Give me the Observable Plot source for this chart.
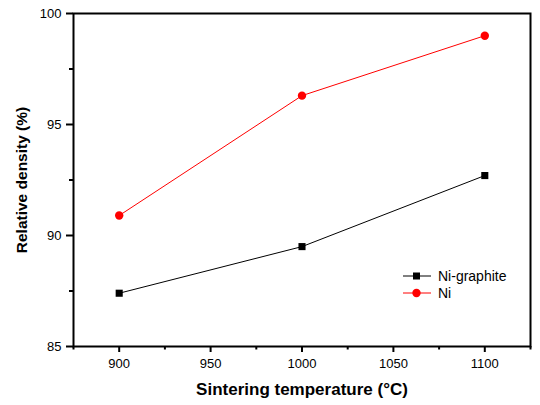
<!DOCTYPE html>
<html><head><meta charset="utf-8">
<script src="https://cdn.jsdelivr.net/npm/d3@7"></script>
<script src="https://cdn.jsdelivr.net/npm/@observablehq/plot@0.6"></script>
<style>
body{margin:0;background:#fff;font-family:"Liberation Sans",Arial,sans-serif;}
#wrap{position:relative;width:540px;height:405px;}
svg [aria-label="x-axis label"]{font-weight:bold;font-size:17px;}
svg [aria-label="y-axis label"]{font-weight:bold;font-size:15.5px;}
#legend{position:absolute;left:402px;top:268px;font-size:14px;line-height:16.5px;color:#000;}
#legend div{display:flex;align-items:center;}
#legend svg{margin-right:6px;}
</style></head>
<body><div id="wrap"></div>
<script>
const temperatures = [900, 1000, 1100];
const niGraphite = [87.4, 89.5, 92.7];
const ni = [90.9, 96.3, 99.0];
const seriesNames = ["Ni-graphite", "Ni"];
const seriesColors = ["#000000", "#ff0000"];
const xMajor = [900, 950, 1000, 1050, 1100];
const xMinor = [875, 925, 975, 1025, 1075, 1125];
const yMajor = [85, 90, 95, 100];
const yMinor = [87.5, 92.5, 97.5];

const rows = [];
temperatures.forEach((t, i) => {
  rows.push({t, v: niGraphite[i], s: seriesNames[0]});
  rows.push({t, v: ni[i], s: seriesNames[1]});
});
const g = rows.filter(d => d.s === seriesNames[0]);
const n = rows.filter(d => d.s === seriesNames[1]);

const chart = Plot.plot({
  width: 540, height: 405,
  marginLeft: 73, marginRight: 10, marginTop: 13, marginBottom: 59,
  style: {fontFamily: '"Liberation Sans", Arial, sans-serif', fontSize: "13px", background: "#fff", color: "#000", overflow: "visible"},
  x: {domain: [875, 1125]},
  y: {domain: [85, 100]},
  marks: [
    Plot.axisX({ticks: xMajor, tickSize: 6, tickPadding: 6, stroke: "black", strokeWidth: 2, tickFormat: d => String(d), label: "Sintering temperature (°C)", labelAnchor: "center", labelOffset: 48, labelArrow: "none"}),
    Plot.axisX({ticks: xMinor, tickSize: 3.5, stroke: "black", strokeWidth: 2, tickFormat: () => "", label: null}),
    Plot.axisY({ticks: yMajor, tickSize: 7, tickPadding: 5, stroke: "black", strokeWidth: 2, label: "Relative density (%)", labelAnchor: "center", labelOffset: 58, labelArrow: "none"}),
    Plot.axisY({ticks: yMinor, tickSize: 4, stroke: "black", strokeWidth: 2, tickFormat: () => "", label: null}),
    Plot.frame({stroke: "#000", strokeWidth: 2}),
    Plot.line(g, {x: "t", y: "v", stroke: seriesColors[0], strokeWidth: 1}),
    Plot.line(n, {x: "t", y: "v", stroke: seriesColors[1], strokeWidth: 1}),
    Plot.dot(g, {x: "t", y: "v", symbol: "square", r: 4, fill: seriesColors[0], stroke: "none"}),
    Plot.dot(n, {x: "t", y: "v", symbol: "circle", r: 4.2, fill: seriesColors[1], stroke: "none"})
  ]
});
const wrap = document.getElementById("wrap");
wrap.appendChild(chart);

const legend = document.createElement("div");
legend.id = "legend";
seriesNames.forEach((name, i) => {
  const row = document.createElement("div");
  const shape = i === 0
    ? `<rect x="11" y="4.5" width="7" height="7" fill="${seriesColors[i]}"/>`
    : `<circle cx="14.5" cy="8" r="4.2" fill="${seriesColors[i]}"/>`;
  row.innerHTML = `<svg width="30" height="16"><line x1="1" x2="29" y1="8" y2="8" stroke="${seriesColors[i]}" stroke-width="1"/>${shape}</svg><span>${name}</span>`;
  legend.appendChild(row);
});
wrap.appendChild(legend);
</script></body></html>
